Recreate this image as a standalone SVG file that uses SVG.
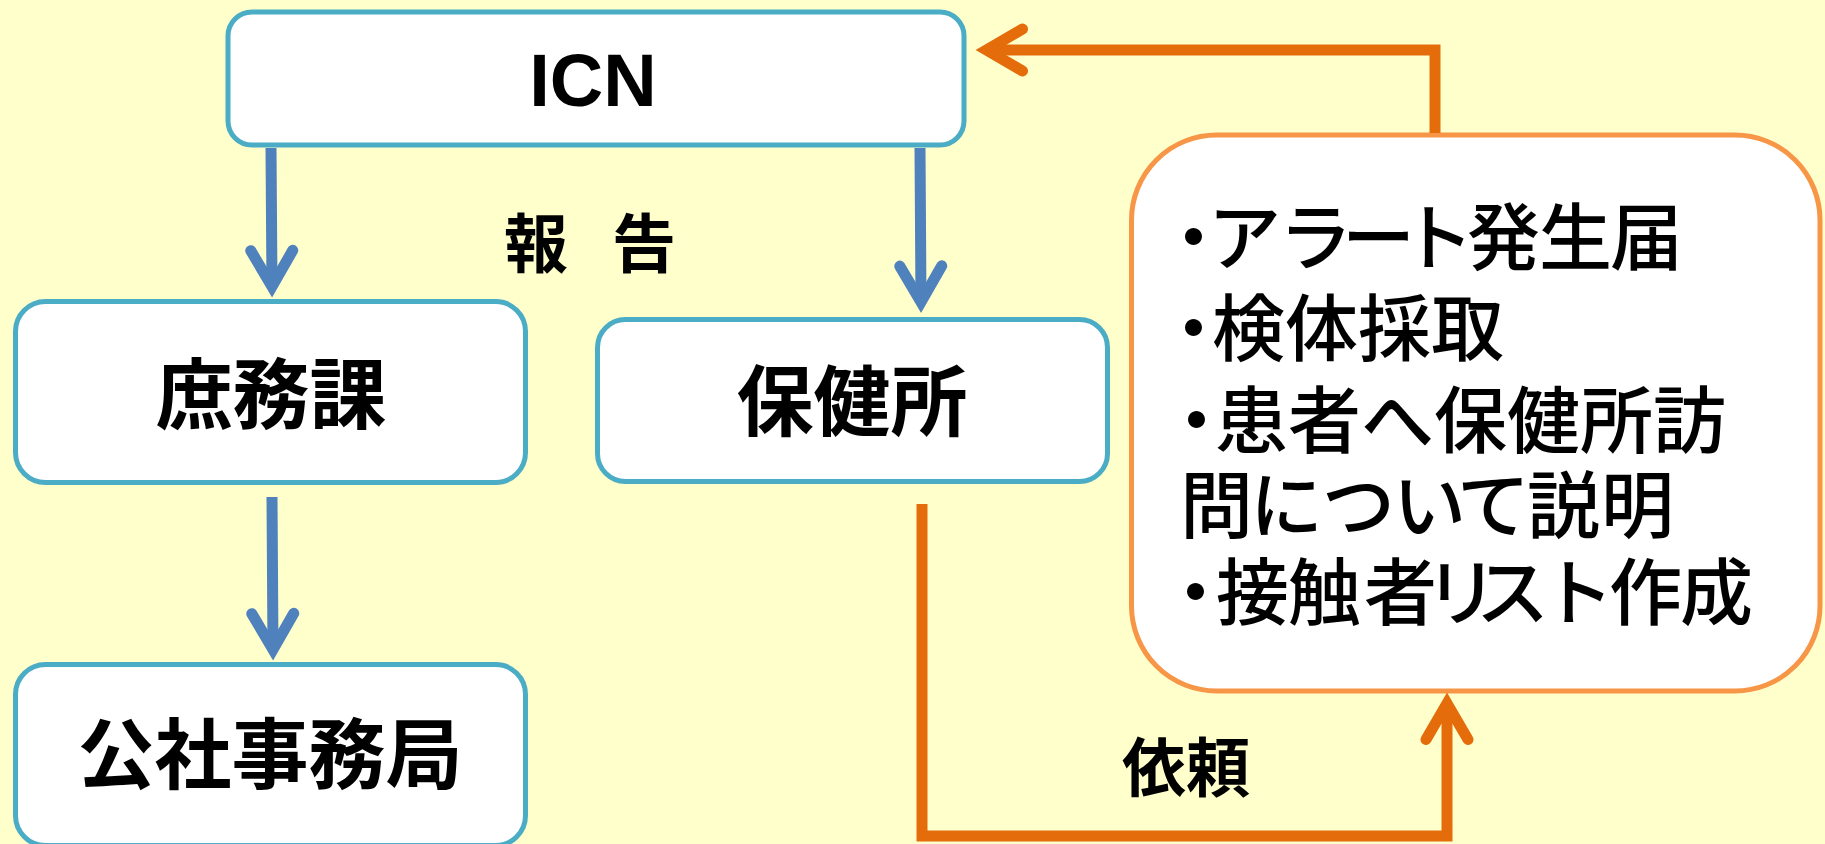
<svg xmlns="http://www.w3.org/2000/svg" width="1825" height="844" viewBox="0 0 1825 844">
<style>
.bg{fill:#FFFFCC}
.box{fill:#FFFFFF;stroke:#4BACC6;stroke-width:5}
.obox{fill:#FFFFFF;stroke:#F79646;stroke-width:5}
.lbl{font-family:"Noto Sans CJK JP","Noto Sans CJK SC",sans-serif;font-weight:700;font-size:77px;fill:#000;text-anchor:middle}
.icn{font-family:"Liberation Sans",Arial,sans-serif;font-weight:700;font-size:74px;fill:#000;text-anchor:middle}
.note{font-family:"Noto Sans CJK JP","Noto Sans CJK SC",sans-serif;font-weight:500;font-size:73px;fill:#000}
.elbl{font-family:"Noto Sans CJK JP","Noto Sans CJK SC",sans-serif;font-weight:700;font-size:64px;fill:#000}
.blue{fill:none;stroke:#4F81BD;stroke-width:11}
.orange{fill:none;stroke:#E46C0A;stroke-width:11;stroke-linejoin:miter}
</style>
<defs>
<marker id="ahB" markerUnits="userSpaceOnUse" orient="auto" refX="0" refY="0" markerWidth="70" markerHeight="60" viewBox="-50 -30 70 60" overflow="visible">
<path d="M-36,-21 L0,0 L-36,21" fill="none" stroke="#4F81BD" stroke-width="11" stroke-linecap="round" stroke-linejoin="miter" stroke-miterlimit="10"/>
</marker>
<marker id="ahO" markerUnits="userSpaceOnUse" orient="auto" refX="0" refY="0" markerWidth="70" markerHeight="60" viewBox="-50 -30 70 60" overflow="visible">
<path d="M-36,-21 L0,0 L-36,21" fill="none" stroke="#E46C0A" stroke-width="11" stroke-linecap="round" stroke-linejoin="miter" stroke-miterlimit="10"/>
</marker>
</defs>
<rect class="bg" x="0" y="0" width="1825" height="844"/>

<g id="node-icn">
<rect class="box" x="228" y="12" width="736" height="133" rx="24" ry="24"/>
<text class="icn" x="593" y="106">ICN</text>
</g>
<g id="node-shomuka">
<rect class="box" x="15.5" y="301.5" width="510" height="181" rx="30" ry="30"/>
<text class="lbl" x="271" y="423">庶務課</text>
</g>
<g id="node-hokenjo">
<rect class="box" x="597.5" y="319.5" width="510" height="162" rx="28" ry="28"/>
<text class="lbl" x="852" y="430">保健所</text>
</g>
<g id="node-kosha">
<rect class="box" x="15.5" y="664.5" width="510" height="181" rx="30" ry="30"/>
<text class="lbl" x="270" y="783">公社事務局</text>
</g>
<g id="node-tasks">
<rect class="obox" x="1131.5" y="135" width="688.5" height="556" rx="85" ry="85"/>
<text class="note" x="1157 1208 1279 1342 1401 1467 1539 1610" y="264">・アラート発生届</text>
<text class="note" x="1157 1212" y="355">・検体採取</text>
<text class="note" x="1160 1215" y="447">・患者へ保健所訪</text>
<text class="note" x="1180 1250 1322 1393 1457 1527 1601" y="532">問について説明</text>
<text class="note" x="1159 1216 1288 1364 1425 1476 1541 1609 1680" y="619">・接触者リスト作成</text>
</g>

<g id="connectors">
<path class="blue" d="M271,148 L272,286.5" marker-end="url(#ahB)"/>
<path class="blue" d="M920,148 L921,302" marker-end="url(#ahB)"/>
<path class="blue" d="M272,497 L273,649.5" marker-end="url(#ahB)"/>
<path class="orange" d="M922,504 V836 H1447 V703.5" marker-end="url(#ahO)"/>
<path class="orange" d="M1435,133 V50 H986.5" marker-end="url(#ahO)"/>
<text class="elbl" x="504 568 612" y="267">報 告</text>
<text class="elbl" x="1122" y="791">依頼</text>
</g>
</svg>
